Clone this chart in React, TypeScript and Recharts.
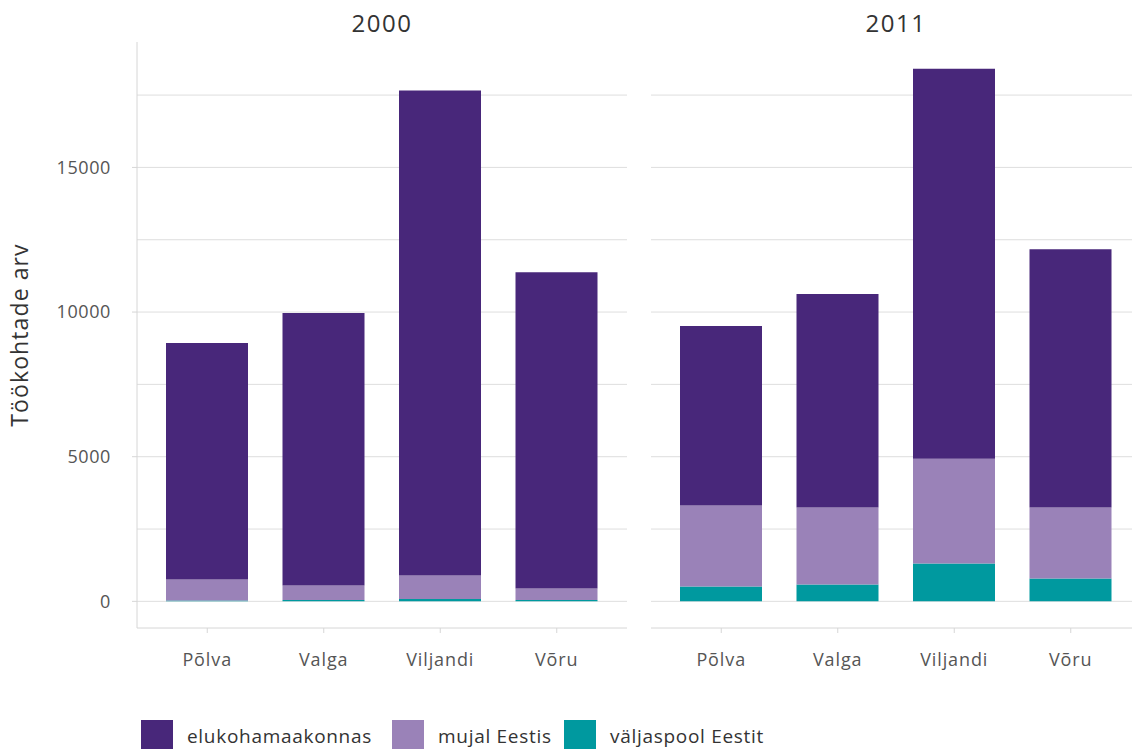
import React from 'react';
import { BarChart, Bar, XAxis, YAxis, CartesianGrid } from 'recharts';

const regions = ['Põlva', 'Valga', 'Viljandi', 'Võru'];
const years = ['2000', '2011'];
const seriesNames = ['elukohamaakonnas', 'mujal Eestis', 'väljaspool Eestit'];
const seriesColors = ['#48277A', '#9A82B8', '#00999F'];

const abroad2000 = [30, 50, 80, 45];
const elsewhere2000 = [729, 502, 817, 403];
const home2000 = [8172, 9414, 16758, 10931];

const abroad2011 = [517, 586, 1310, 793];
const elsewhere2011 = [2793, 2655, 3621, 2448];
const home2011 = [6207, 7379, 13483, 8931];

const yTicks = [0, 5000, 10000, 15000];
const gridValues = [0, 2500, 5000, 7500, 10000, 12500, 15000, 17500];
const yDomain = [-921, 19335];

const build = (abroad: number[], elsewhere: number[], home: number[]) =>
  regions.map((r, i) => ({ region: r, abroad: abroad[i], elsewhere: elsewhere[i], home: home[i] }));

const data2000 = build(abroad2000, elsewhere2000, home2000);
const data2011 = build(abroad2011, elsewhere2011, home2011);

const FONT = '"Open Sans", sans-serif';
const xTickStyle = { fill: '#555555', fontSize: 18, fontFamily: FONT, letterSpacing: 0.9 };
const yTickStyle = { fill: '#555555', fontSize: 18, fontFamily: FONT, letterSpacing: 0.6 };

function Panel({ data, showY, width, margin }: any) {
  return (
    <BarChart width={width} height={700} data={data} margin={margin}>
      <CartesianGrid horizontal vertical={false} stroke="#dedede" horizontalValues={gridValues} />
      <XAxis
        dataKey="region"
        height={72}
        padding={{ left: 12, right: 12 }}
        tick={xTickStyle}
        tickSize={5}
        tickMargin={20}
        axisLine={{ stroke: '#d6d6d6' }}
        tickLine={{ stroke: '#d6d6d6' }}
        interval={0}
      />
      <YAxis
        hide={!showY}
        width={137}
        type="number"
        domain={yDomain}
        allowDataOverflow
        ticks={yTicks}
        interval={0}
        tick={yTickStyle}
        tickSize={5}
        tickMargin={21}
        axisLine={{ stroke: '#d6d6d6' }}
        tickLine={{ stroke: '#d6d6d6' }}
      />
      <Bar dataKey="abroad" stackId="a" fill={seriesColors[2]} barSize={82} isAnimationActive={false} />
      <Bar dataKey="elsewhere" stackId="a" fill={seriesColors[1]} barSize={82} isAnimationActive={false} />
      <Bar dataKey="home" stackId="a" fill={seriesColors[0]} barSize={82} isAnimationActive={false} />
    </BarChart>
  );
}

export default function App() {
  const legendX = [141, 392, 564];
  return (
    <div style={{ position: 'absolute', left: 0, top: 0, width: 1132, height: 749, overflow: 'hidden', background: '#fff', fontFamily: FONT }}>
      <div style={{ position: 'absolute', left: 0, top: 0 }}>
        <Panel data={data2000} showY width={640} margin={{ top: 42, right: 13, left: 0, bottom: 0 }} />
      </div>
      <div style={{ position: 'absolute', left: 640, top: 0 }}>
        <Panel data={data2011} showY={false} width={501} margin={{ top: 42, right: 0, left: 11, bottom: 0 }} />
      </div>
      <div style={{ position: 'absolute', left: 137, width: 490, top: 6, textAlign: 'center', fontSize: 24, letterSpacing: 1.5, color: '#333' }}>{years[0]}</div>
      <div style={{ position: 'absolute', left: 651, width: 490, top: 6, textAlign: 'center', fontSize: 24, letterSpacing: 1.5, color: '#333' }}>{years[1]}</div>
      <div style={{ position: 'absolute', left: 19, top: 335, width: 0, height: 0 }}>
        <div style={{ position: 'absolute', transform: 'translate(-50%, -50%) rotate(-90deg)', whiteSpace: 'nowrap', fontSize: 23, letterSpacing: 1.1, color: '#333' }}>
          Töökohtade arv
        </div>
      </div>
      {seriesNames.map((n, i) => (
        <div key={n} style={{ position: 'absolute', left: legendX[i], top: 720, display: 'flex', alignItems: 'center' }}>
          <div style={{ width: 32, height: 32, background: seriesColors[i] }} />
          <span style={{ marginLeft: 14, fontSize: 19, letterSpacing: 0.7, color: '#333', lineHeight: '32px', whiteSpace: 'nowrap' }}>{n}</span>
        </div>
      ))}
    </div>
  );
}
